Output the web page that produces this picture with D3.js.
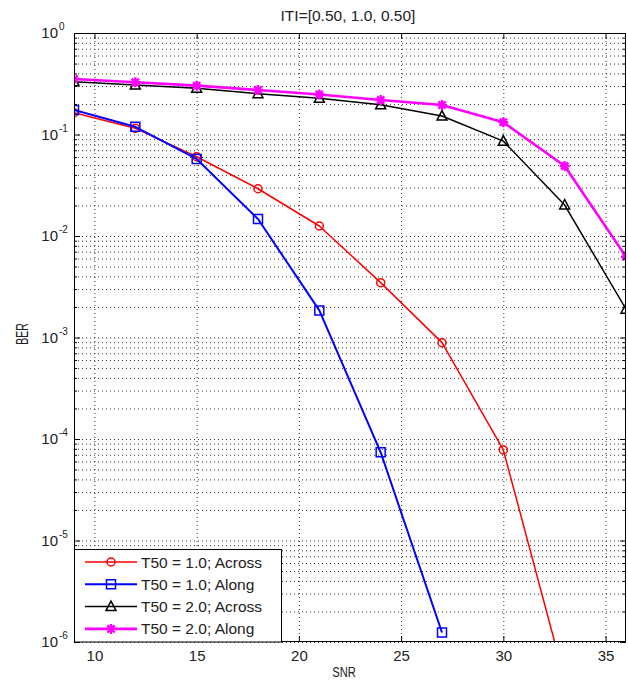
<!DOCTYPE html>
<html>
<head>
<meta charset="utf-8">
<script src="https://cdn.jsdelivr.net/npm/d3@7/dist/d3.min.js"></script>
<style>
  html, body { margin: 0; padding: 0; background: #fff; }
  svg { display: block; font-family: "Liberation Sans", Arial, Helvetica, sans-serif; }
</style>
</head>
<body>
<svg id="chart" width="628" height="681"></svg>
<script>
// SNR sample points (dB)
const snr = [9, 12, 15, 18, 21, 24, 27, 30, 33, 36];

// BER per configuration
const berT1Across = [0.164, 0.115, 0.0604, 0.0292, 0.01255, 0.00347, 0.00089, 7.8e-5, 4.3e-7];
const berT1Along  = [0.174, 0.119, 0.0574, 0.0147, 0.00185, 7.4e-5, 1.24e-6];
const berT2Across = [0.330, 0.307, 0.285, 0.252, 0.227, 0.196, 0.152, 0.086, 0.0202, 0.0019];
const berT2Along  = [0.352, 0.327, 0.303, 0.274, 0.248, 0.219, 0.195, 0.132, 0.049, 0.00625];

const seriesNames = ["T50 = 1.0; Across", "T50 = 1.0; Along", "T50 = 2.0; Across", "T50 = 2.0; Along"];
const xTicks = [10, 15, 20, 25, 30, 35];
const yExponents = [0, -1, -2, -3, -4, -5, -6];
const titleText = "ITI=[0.50, 1.0, 0.50]";

const series = [
  { name: seriesNames[0], values: berT1Across, color: "#ff0000", width: 1.5, marker: "circle" },
  { name: seriesNames[1], values: berT1Along,  color: "#0000ff", width: 2,   marker: "square" },
  { name: seriesNames[2], values: berT2Across, color: "#000000", width: 1.5, marker: "triangle" },
  { name: seriesNames[3], values: berT2Along,  color: "#ff00ff", width: 2.6, marker: "star" }
];

const svg = d3.select("#chart");
const pL = 74, pR = 626, pT = 33, pB = 642;
const W = pR - pL, H = pB - pT;

const x = d3.scaleLinear().domain([9, 36]).range([pL, pR]);
const y = d3.scaleLog().domain([1e-6, 1]).range([pB, pT]);

// minor decade values 2..9 × 10^k
const minorVals = [];
for (let e = -6; e < 0; e++) for (let m = 2; m <= 9; m++) minorVals.push(m * Math.pow(10, e));
const majorVals = yExponents.map(e => Math.pow(10, e));

svg.append("rect").attr("x", pL).attr("y", pT).attr("width", W).attr("height", H).attr("fill", "#fff");

// dotted grid
const gridStyle = g => g.call(s => s.select(".domain").remove())
  .selectAll(".tick line").attr("stroke", "#333").attr("stroke-width", 1).attr("stroke-dasharray", "1,3");

svg.append("g").attr("transform", `translate(0,${pB})`)
  .call(d3.axisBottom(x).tickValues(xTicks).tickSize(-H).tickFormat(""))
  .call(gridStyle);
svg.append("g").attr("transform", `translate(${pL},0)`)
  .call(d3.axisLeft(y).tickValues(majorVals.concat(minorVals)).tickSize(-W).tickFormat(""))
  .call(gridStyle);

// data
svg.append("clipPath").attr("id", "plotclip")
  .append("rect").attr("x", pL).attr("y", pT).attr("width", W).attr("height", H);

const plot = svg.append("g").attr("clip-path", "url(#plotclip)");
const line = d3.line().x((d, i) => x(snr[i])).y(d => y(d));

function markerPath(type) {
  switch (type) {
    case "circle": return d3.symbol(d3.symbolCircle, 50)();
    case "square": return "M-4.5,-4.5H4.5V4.5H-4.5Z";
    case "triangle": return "M0,-5.5L5,4L-5,4Z";
    case "star": return "M-5,0H5M0,-5V5M-3.6,-3.6L3.6,3.6M-3.6,3.6L3.6,-3.6";
  }
}

series.forEach(s => {
  plot.append("path").datum(s.values)
    .attr("d", line).attr("fill", "none")
    .attr("stroke", s.color).attr("stroke-width", s.width)
    .attr("stroke-linejoin", "round");
  plot.selectAll(null).data(s.values).enter().append("path")
    .attr("transform", (d, i) => `translate(${x(snr[i])},${y(d)})`)
    .attr("d", markerPath(s.marker))
    .attr("fill", "none")
    .attr("stroke", s.color)
    .attr("stroke-width", s.marker === "star" ? 2.4 : 1.5);
});

// frame and tick marks
const tickStyle = g => g.call(s => s.select(".domain").remove())
  .selectAll(".tick line").attr("stroke", "#000");

svg.append("g").attr("transform", `translate(0,${pB})`)
  .call(d3.axisBottom(x).tickValues(xTicks).tickSizeInner(-6).tickSizeOuter(0).tickPadding(8))
  .call(tickStyle)
  .call(g => g.selectAll("text").attr("font-size", 15).attr("fill", "#222")
    .attr("font-family", "Liberation Sans, Arial, sans-serif"));
svg.append("g").attr("transform", `translate(0,${pT})`)
  .call(d3.axisTop(x).tickValues(xTicks).tickSizeInner(-6).tickSizeOuter(0).tickFormat(""))
  .call(tickStyle);
svg.append("g").attr("transform", `translate(${pL},0)`)
  .call(d3.axisLeft(y).tickValues(majorVals).tickSizeInner(-6).tickSizeOuter(0).tickFormat(""))
  .call(tickStyle);
svg.append("g").attr("transform", `translate(${pL},0)`)
  .call(d3.axisLeft(y).tickValues(minorVals).tickSizeInner(-3).tickSizeOuter(0).tickFormat(""))
  .call(tickStyle);
svg.append("g").attr("transform", `translate(${pR},0)`)
  .call(d3.axisRight(y).tickValues(majorVals).tickSizeInner(-6).tickSizeOuter(0).tickFormat(""))
  .call(tickStyle);
svg.append("g").attr("transform", `translate(${pR},0)`)
  .call(d3.axisRight(y).tickValues(minorVals).tickSizeInner(-3).tickSizeOuter(0).tickFormat(""))
  .call(tickStyle);

svg.append("rect").attr("x", pL + 0.5).attr("y", pT + 0.5)
  .attr("width", W - 1).attr("height", H - 1)
  .attr("fill", "none").attr("stroke", "#000").attr("stroke-width", 1);

// y tick labels as 10^k
const yl = svg.append("g");
yExponents.forEach(e => {
  const yy = y(Math.pow(10, e));
  yl.append("text").attr("x", 58).attr("y", yy + 5)
    .attr("text-anchor", "end").attr("font-size", 15).attr("fill", "#222").text("10");
  yl.append("text").attr("x", 59).attr("y", yy - 3)
    .attr("font-size", 10).attr("fill", "#222").text(String(e));
});

// title and axis labels
svg.append("text").attr("x", 348).attr("y", 21).attr("text-anchor", "middle")
  .attr("font-size", 15.5).attr("fill", "#222").text(titleText);
svg.append("text").attr("transform", "translate(344,677) scale(0.72,1)")
  .attr("text-anchor", "middle").attr("font-size", 15.5).attr("fill", "#222").text("SNR");
svg.append("text").attr("transform", "translate(28,334) rotate(-90) scale(0.62,1)")
  .attr("text-anchor", "middle").attr("font-size", 17).attr("fill", "#222").text("BER");

// legend
const lg = svg.append("g");
lg.append("rect").attr("x", pL + 0.5).attr("y", 549.5).attr("width", 207).attr("height", pB - 549.5)
  .attr("fill", "#fff").attr("stroke", "#000").attr("stroke-width", 1);
series.forEach((s, i) => {
  const yy = 562 + i * 22.3;
  lg.append("line").attr("x1", 85).attr("x2", 137).attr("y1", yy).attr("y2", yy)
    .attr("stroke", s.color).attr("stroke-width", s.width);
  lg.append("path").attr("transform", `translate(111,${yy})`).attr("d", markerPath(s.marker))
    .attr("fill", "none").attr("stroke", s.color)
    .attr("stroke-width", s.marker === "star" ? 2.4 : 1.5);
  lg.append("text").attr("x", 141).attr("y", yy + 5.5).attr("font-size", 15.5)
    .attr("fill", "#222").text(s.name);
});
</script>
</body>
</html>
